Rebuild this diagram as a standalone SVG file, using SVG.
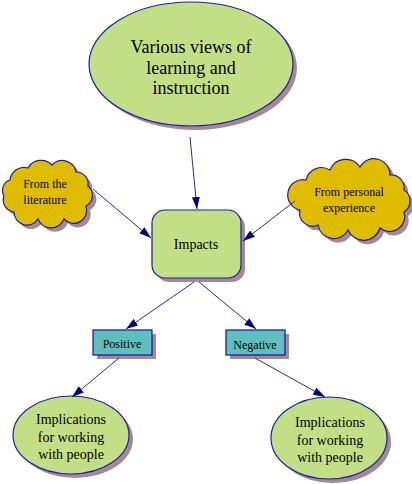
<svg xmlns="http://www.w3.org/2000/svg" width="412" height="484" viewBox="0 0 412 484">
<style>
.sh{fill:#a48a8e}
.g{fill:#c3df86;stroke:#1c1cb4;stroke-width:1.2}
.y{fill:#e0bc00;stroke:#1c1cb4;stroke-width:1.2}
.t{fill:#5fbfbf;stroke:#1010b0;stroke-width:1.2}
text{font-family:"Liberation Serif","Times New Roman",serif;fill:#000;text-anchor:middle}
.c line{stroke:#2a2a9a;stroke-width:1}
</style>
<defs>
<marker id="ah" viewBox="0 0 12 8" refX="12" refY="4" markerWidth="12" markerHeight="8" markerUnits="userSpaceOnUse" orient="auto">
<path d="M0,0 L12,4 L0,8 Z" fill="#000080"/>
</marker>
</defs>
<rect width="412" height="484" fill="#fff"/>
<g id="top">
<ellipse class="sh" cx="195" cy="68" rx="102" ry="62"/>
<ellipse class="g" cx="191" cy="64" rx="102" ry="62"/>
<text x="191" y="53" font-size="18">Various views of</text>
<text x="191" y="74" font-size="18">learning and</text>
<text x="191" y="94" font-size="18">instruction</text>
</g>
<g id="lit">
<path class="sh" transform="translate(4,4)" d="M10,180 A14 14 0 0 1 28,168 A15 15 0 0 1 52,165 A14 14 0 0 1 76,172 A12 12 0 0 1 88,186 A12 12 0 0 1 86,206 A13 13 0 0 1 64,219 A14 14 0 0 1 38,219 A13 13 0 0 1 14,212 A12 12 0 0 1 4,196 A11 11 0 0 1 10,180 Z"/>
<path class="y" d="M10,180 A14 14 0 0 1 28,168 A15 15 0 0 1 52,165 A14 14 0 0 1 76,172 A12 12 0 0 1 88,186 A12 12 0 0 1 86,206 A13 13 0 0 1 64,219 A14 14 0 0 1 38,219 A13 13 0 0 1 14,212 A12 12 0 0 1 4,196 A11 11 0 0 1 10,180 Z"/>
<text x="45" y="188" font-size="12">From the</text>
<text x="45" y="204" font-size="12">literature</text>
</g>
<g id="pers">
<path class="sh" transform="translate(4,4)" d="M306,180 A16 16 0 0 1 330,170 A17 17 0 0 1 360,167 A16 16 0 0 1 390,175 A13 13 0 0 1 404,190 A13 13 0 0 1 404,212 A15 15 0 0 1 380,228 A17 17 0 0 1 348,230 A16 16 0 0 1 318,225 A13 13 0 0 1 300,210 A13 13 0 0 1 306,180 Z"/>
<path class="y" d="M306,180 A16 16 0 0 1 330,170 A17 17 0 0 1 360,167 A16 16 0 0 1 390,175 A13 13 0 0 1 404,190 A13 13 0 0 1 404,212 A15 15 0 0 1 380,228 A17 17 0 0 1 348,230 A16 16 0 0 1 318,225 A13 13 0 0 1 300,210 A13 13 0 0 1 306,180 Z"/>
<text x="349" y="196" font-size="12">From personal</text>
<text x="349" y="212" font-size="12">experience</text>
</g>
<g id="impacts">
<rect class="sh" x="156" y="214" width="89" height="68" rx="13"/>
<rect class="g" x="152" y="210" width="89" height="68" rx="13"/>
<text x="196" y="249" font-size="14">Impacts</text>
</g>
<g id="positive">
<rect class="sh" x="97" y="334" width="59" height="25"/>
<rect class="t" x="93" y="330" width="59" height="25"/>
<text x="122" y="348" font-size="12">Positive</text>
</g>
<g id="negative">
<rect class="sh" x="230" y="334" width="59" height="25"/>
<rect class="t" x="226" y="330" width="59" height="25"/>
<text x="255" y="349" font-size="12">Negative</text>
</g>
<g id="impl1">
<ellipse class="sh" cx="75" cy="439" rx="58" ry="39"/>
<ellipse class="g" cx="71" cy="435" rx="58" ry="39"/>
<text x="71" y="424" font-size="14">Implications</text>
<text x="71" y="442" font-size="14">for working</text>
<text x="71" y="459" font-size="14">with people</text>
</g>
<g id="impl2">
<ellipse class="sh" cx="333" cy="442" rx="58" ry="41"/>
<ellipse class="g" cx="329" cy="438" rx="58" ry="41"/>
<text x="330" y="427" font-size="14">Implications</text>
<text x="330" y="445" font-size="14">for working</text>
<text x="330" y="462" font-size="14">with people</text>
</g>
<g class="c" id="connectors">
<line x1="190" y1="137" x2="197" y2="209" marker-end="url(#ah)"/>
<line x1="93" y1="189" x2="151" y2="238" marker-end="url(#ah)"/>
<line x1="295" y1="201" x2="243" y2="241" marker-end="url(#ah)"/>
<line x1="194" y1="282" x2="126" y2="329" marker-end="url(#ah)"/>
<line x1="199" y1="282" x2="256" y2="329" marker-end="url(#ah)"/>
<line x1="119" y1="358" x2="72" y2="397" marker-end="url(#ah)"/>
<line x1="255" y1="358" x2="325" y2="397" marker-end="url(#ah)"/>
</g>
</svg>
